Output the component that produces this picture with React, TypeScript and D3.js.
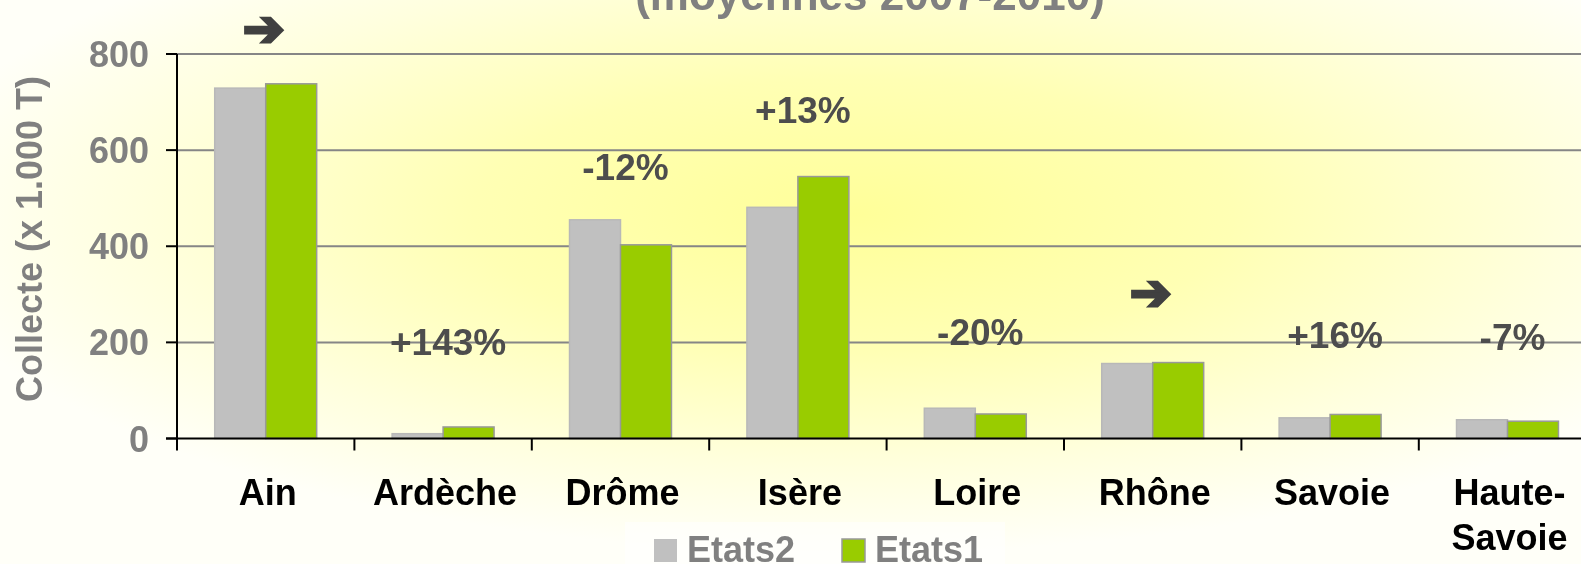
import * as d3 from 'd3'
import * as React from 'react'

//------------------------------data------------------------------
const categories = ['Ain', 'Ardèche', 'Drôme', 'Isère', 'Loire', 'Rhône', 'Savoie', 'Haute-Savoie']
const seriesNames = ['Etats2', 'Etats1']
const etats2 = [729, 10, 455, 481, 63, 156, 43, 39]
const etats1 = [738, 24, 403, 545, 51, 158, 50, 36]
// evolution label per department and the value (in 1.000 T) it sits at
const evolution = ['➔', '+143%', '-12%', '+13%', '-20%', '➔', '+16%', '-7%']
const evolutionAt = [855, 173, 538, 657, 194, 305, 189, 184]
const yTicks = [0, 200, 400, 600, 800]
const title = '(moyennes 2007-2010)'
const yTitle = 'Collecte (x 1.000 T)'

//------------------------------layout------------------------------
const WIDTH = 1581
const HEIGHT = 564
const X0 = 177
const STEP = 177.4
const FONT = '"Liberation Sans", Arial, Helvetica, sans-serif'
const COLORS = ['#c0c0c0', '#99cc00']

const x = d3
  .scaleBand<string>()
  .domain(categories)
  .range([X0, X0 + STEP * categories.length])
  .paddingInner(0)
  .paddingOuter(0)
const xSub = d3
  .scaleBand<string>()
  .domain(seriesNames)
  .range([0, x.bandwidth()])
  .paddingInner(0)
  .paddingOuter(0.74)
const y = d3.scaleLinear().domain([0, 800]).range([438.5, 54])

const splitLabel = (s: string) => {
  const i = s.indexOf('-')
  return i < 0 ? [s] : [s.slice(0, i + 1), s.slice(i + 1)]
}

//------------------------------Component------------------------------
export default function App() {
  const values = [etats2, etats1]
  const x1 = X0 + STEP * categories.length
  return (
    <svg
      width={WIDTH}
      height={HEIGHT}
      style={{ position: 'fixed', left: 0, top: 0 }}
      fontFamily={FONT}
      fontWeight="bold"
    >
      <defs>
        <radialGradient id="bg" cx="0.54" cy="0.38" r="0.6">
          <stop offset="0" stopColor="#ffff99" />
          <stop offset="0.4" stopColor="#ffffb4" />
          <stop offset="0.75" stopColor="#ffffde" />
          <stop offset="1" stopColor="#fffff8" />
        </radialGradient>
      </defs>
      <rect width={WIDTH} height={HEIGHT} fill="url(#bg)" />

      {/* title, cut at the top */}
      <text x={870} y={10} textAnchor="middle" fontSize={44} fill="#808080">
        {title}
      </text>

      {/* grid */}
      {yTicks
        .filter(t => t > 0)
        .map(t => (
          <line key={t} x1={X0} x2={x1} y1={y(t)} y2={y(t)} stroke="#868686" strokeWidth={2} />
        ))}

      {/* bars */}
      {categories.map((c, i) => (
        <g key={c} transform={`translate(${x(c)},0)`}>
          {seriesNames.map((s, k) => (
            <rect
              key={s}
              x={xSub(s)}
              y={y(values[k][i])}
              width={xSub.bandwidth()}
              height={y(0) - y(values[k][i])}
              fill={COLORS[k]}
              stroke={k === 1 ? '#999999' : '#b8b8b8'}
              strokeWidth={1.5}
            />
          ))}
        </g>
      ))}

      {/* axes */}
      <line x1={X0} x2={X0} y1={y(800)} y2={y(0)} stroke="#000" strokeWidth={2} />
      <line x1={166} x2={x1} y1={y(0)} y2={y(0)} stroke="#000" strokeWidth={2} />
      {yTicks.map(t => (
        <g key={t}>
          <line x1={166} x2={X0} y1={y(t)} y2={y(t)} stroke="#000" strokeWidth={2} />
          <text x={149} y={y(t) + 13} textAnchor="end" fontSize={36} fill="#808080">
            {t}
          </text>
        </g>
      ))}
      {categories.map(c => (
        <line key={c} x1={x(c)} x2={x(c)} y1={y(0)} y2={y(0) + 12} stroke="#000" strokeWidth={2} />
      ))}
      {categories.map(c => (
        <text
          key={c}
          x={(x(c) as number) + x.bandwidth() / 2 + 2}
          y={505}
          textAnchor="middle"
          fontSize={36}
          fill="#000"
        >
          {splitLabel(c).map((line, j) => (
            <tspan key={j} x={(x(c) as number) + x.bandwidth() / 2 + 2} dy={j === 0 ? 0 : 45}>
              {line}
            </tspan>
          ))}
        </text>
      ))}
      <text
        transform={`translate(42,239) rotate(-90)`}
        textAnchor="middle"
        fontSize={36}
        fill="#808080"
      >
        {yTitle}
      </text>

      {/* evolution labels */}
      {categories.map((c, i) => {
        const cx = (x(c) as number) + x.bandwidth() / 2
        const isArrow = evolution[i] === '➔'
        return isArrow ? (
          <text
            key={c}
            x={cx - 2}
            y={y(evolutionAt[i])}
            dy="0.36em"
            textAnchor="middle"
            fontSize={50}
            fontFamily="DejaVu Sans"
            fill="#404040"
            stroke="#404040"
            strokeWidth={3}
            strokeLinejoin="miter"
          >
            {evolution[i]}
          </text>
        ) : (
          <text key={c} x={cx + 5} y={y(evolutionAt[i])} textAnchor="middle" fontSize={37} fill="#4d4d4d">
            {evolution[i]}
          </text>
        )
      })}

      {/* legend */}
      <rect x={625} y={522} width={380} height={HEIGHT - 522} fill="#ffffff" opacity={0.55} />
      {seriesNames.map((s, k) => (
        <g key={s} transform={`translate(${654 + k * 188},539)`}>
          <rect width={23} height={23} fill={COLORS[k]} stroke={k === 1 ? '#999999' : 'none'} strokeWidth={1.5} />
          <text x={33} y={23} fontSize={36} fill="#808080">
            {s}
          </text>
        </g>
      ))}
    </svg>
  )
}
